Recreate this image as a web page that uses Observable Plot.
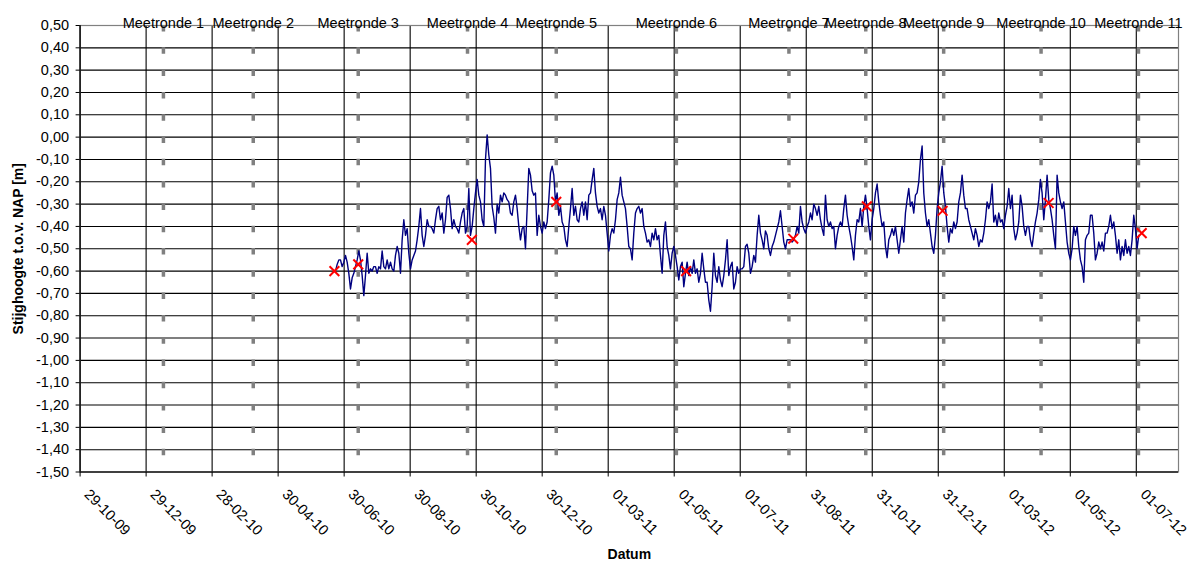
<!DOCTYPE html>
<html>
<head>
<meta charset="utf-8">
<script src="https://cdn.jsdelivr.net/npm/d3@7"></script>
<script src="https://cdn.jsdelivr.net/npm/@observablehq/plot@0.6"></script>
<style>
  html, body { margin: 0; padding: 0; background: #fff; }
  svg { display: block; }
</style>
</head>
<body>
<div id="chart"></div>
<script>
// ---- Axis ticks ----
const xTickDates = ["2009-10-29","2009-12-29","2010-02-28","2010-04-30","2010-06-30","2010-08-30","2010-10-30","2010-12-30","2011-03-01","2011-05-01","2011-07-01","2011-08-31","2011-10-31","2011-12-31","2012-03-01","2012-05-01","2012-07-01"];
const xTickLabels = ["29-10-09","29-12-09","28-02-10","30-04-10","30-06-10","30-08-10","30-10-10","30-12-10","01-03-11","01-05-11","01-07-11","31-08-11","31-10-11","31-12-11","01-03-12","01-05-12","01-07-12"];
const xDomain = ["2009-10-29","2012-08-09"];
const yTicks = [0.5,0.4,0.3,0.2,0.1,0.0,-0.1,-0.2,-0.3,-0.4,-0.5,-0.6,-0.7,-0.8,-0.9,-1.0,-1.1,-1.2,-1.3,-1.4,-1.5];

// ---- Meetrondes (measurement rounds) ----
const meetrondeDates = ["2010-01-14","2010-04-07","2010-07-13","2010-10-22","2011-01-12","2011-05-03","2011-08-15","2011-10-25","2012-01-05","2012-04-04","2012-07-03"];
const meetrondeLabels = ["Meetronde 1","Meetronde 2","Meetronde 3","Meetronde 4","Meetronde 5","Meetronde 6","Meetronde 7","Meetronde 8","Meetronde 9","Meetronde 10","Meetronde 11"];

// ---- Manual measurements (red crosses) ----
const handDates = ["2010-06-21","2010-07-13","2010-10-26","2011-01-12","2011-05-12","2011-08-19","2011-10-26","2012-01-04","2012-04-11","2012-07-06"];
const handValues = [-0.60,-0.57,-0.46,-0.29,-0.60,-0.455,-0.31,-0.33,-0.295,-0.43];

// ---- Logger series (stijghoogte, m NAP), regular sampling ----
const seriesStart = "2010-06-22";
const seriesStepDays = 1.54;
const levels2010 = [
-0.60,-0.57,-0.55,-0.55,-0.58,-0.56,-0.53,-0.56,-0.61,-0.68,
-0.63,-0.61,-0.58,-0.55,-0.51,-0.55,-0.62,-0.71,-0.62,-0.52,
-0.61,-0.59,-0.60,-0.58,-0.58,-0.61,-0.58,-0.59,-0.51,-0.58,
-0.59,-0.55,-0.59,-0.56,-0.59,-0.60,-0.53,-0.49,-0.52,-0.61,
-0.46,-0.37,-0.44,-0.41,-0.52,-0.59,-0.55,-0.53,-0.51,-0.46,
-0.40,-0.32,-0.44,-0.49,-0.44,-0.37,-0.40,-0.40,-0.41,-0.43,
-0.37,-0.32,-0.31,-0.37,-0.34,-0.43,-0.37,-0.27,-0.26,-0.32,
-0.41,-0.37,-0.40,-0.41,-0.43,-0.38,-0.34,-0.32,-0.43,-0.40,
-0.23,-0.44,-0.40,-0.32,-0.25,-0.19,-0.26,-0.29,-0.37,-0.40,
-0.10,0.01,-0.08,-0.14,-0.31,-0.36,-0.43,-0.30,-0.34,-0.26,
-0.29,-0.25,-0.26,-0.28,-0.29,-0.34,-0.35,-0.29,-0.26,-0.32,
-0.40,-0.46,-0.41,-0.40,-0.50,-0.32,-0.14,-0.17,-0.24,-0.26,
-0.25];
const levels2011a = [
-0.44,-0.35,-0.40,-0.43,-0.38,-0.41,-0.38,-0.28,-0.16,-0.13,
-0.17,-0.29,-0.25,-0.35,-0.31,-0.38,-0.40,-0.46,-0.49,-0.40,
-0.32,-0.23,-0.35,-0.31,-0.37,-0.38,-0.32,-0.29,-0.35,-0.29,
-0.37,-0.26,-0.25,-0.19,-0.14,-0.25,-0.31,-0.34,-0.32,-0.37,
-0.31,-0.35,-0.43,-0.51,-0.44,-0.41,-0.43,-0.37,-0.28,-0.25,
-0.18,-0.26,-0.29,-0.32,-0.40,-0.49,-0.50,-0.55,-0.43,-0.34,
-0.32,-0.31,-0.34,-0.32,-0.40,-0.43,-0.47,-0.46,-0.49,-0.43,
-0.46,-0.41,-0.46,-0.44,-0.53,-0.61,-0.44,-0.38,-0.49,-0.53,
-0.59,-0.52,-0.49,-0.53,-0.58,-0.64,-0.58,-0.56,-0.67,-0.61,
-0.56,-0.62,-0.58,-0.61,-0.55,-0.61,-0.59,-0.65,-0.61,-0.52,
-0.59,-0.65,-0.65,-0.73,-0.78,-0.67,-0.52,-0.62,-0.65,-0.58,
-0.64,-0.67,-0.62,-0.55,-0.46,-0.62,-0.58,-0.56,-0.68,-0.65,
-0.58,-0.61,-0.59];
const levels2011b = [
-0.59,-0.58,-0.49,-0.48,-0.52,-0.61,-0.58,-0.53,-0.56,-0.44,
-0.35,-0.43,-0.46,-0.50,-0.42,-0.44,-0.50,-0.53,-0.49,-0.47,
-0.44,-0.41,-0.38,-0.33,-0.40,-0.47,-0.50,-0.46,-0.46,-0.46,
-0.47,-0.46,-0.44,-0.40,-0.43,-0.31,-0.38,-0.41,-0.43,-0.40,
-0.38,-0.34,-0.37,-0.30,-0.32,-0.35,-0.31,-0.37,-0.41,-0.44,
-0.26,-0.37,-0.40,-0.38,-0.41,-0.40,-0.50,-0.44,-0.40,-0.38,
-0.40,-0.32,-0.26,-0.35,-0.40,-0.44,-0.49,-0.55,-0.44,-0.37,
-0.38,-0.32,-0.40,-0.31,-0.26,-0.32,-0.40,-0.46,-0.37,-0.32,
-0.25,-0.21,-0.29,-0.35,-0.40,-0.38,-0.49,-0.54,-0.46,-0.44,
-0.41,-0.44,-0.40,-0.46,-0.52,-0.46,-0.40,-0.47,-0.34,-0.28,
-0.23,-0.31,-0.29,-0.34,-0.26,-0.25,-0.20,-0.10,-0.04,-0.25,
-0.34,-0.40,-0.37,-0.43,-0.49,-0.52,-0.44,-0.32,-0.25,-0.20,
-0.13,-0.25];
const levels2012 = [
-0.31,-0.40,-0.47,-0.41,-0.43,-0.38,-0.41,-0.38,-0.29,-0.25,
-0.17,-0.26,-0.32,-0.32,-0.37,-0.40,-0.43,-0.46,-0.41,-0.44,
-0.49,-0.46,-0.47,-0.43,-0.37,-0.29,-0.32,-0.29,-0.21,-0.38,
-0.35,-0.40,-0.34,-0.38,-0.37,-0.41,-0.35,-0.31,-0.23,-0.32,
-0.26,-0.41,-0.46,-0.43,-0.38,-0.26,-0.31,-0.40,-0.44,-0.40,
-0.40,-0.46,-0.49,-0.43,-0.38,-0.34,-0.28,-0.19,-0.25,-0.37,
-0.28,-0.17,-0.28,-0.32,-0.37,-0.44,-0.50,-0.17,-0.25,-0.29,
-0.32,-0.29,-0.38,-0.47,-0.52,-0.55,-0.50,-0.40,-0.44,-0.40,
-0.49,-0.55,-0.58,-0.65,-0.46,-0.44,-0.43,-0.35,-0.35,-0.43,
-0.55,-0.52,-0.47,-0.50,-0.47,-0.51,-0.43,-0.43,-0.40,-0.35,
-0.41,-0.38,-0.44,-0.52,-0.46,-0.55,-0.49,-0.53,-0.46,-0.52,
-0.49,-0.53,-0.46,-0.35,-0.41,-0.50,-0.44];

// ---- Build tables ----
const parse = d3.utcParse("%Y-%m-%d");
const t0 = parse(seriesStart).getTime();
const levels = [...levels2010, ...levels2011a, ...levels2011b, ...levels2012];
const series = levels.map((v, i) => ({date: new Date(t0 + i * seriesStepDays * 864e5), value: v}));
const xTicks = xTickDates.map((d, i) => ({date: parse(d), label: xTickLabels[i]}));
const rounds = meetrondeDates.map((d, i) => ({date: parse(d), label: meetrondeLabels[i]}));
const hand = handDates.map((d, i) => ({date: parse(d), value: handValues[i]}));
const fmt = (v) => v.toFixed(2).replace(".", ",");

const FONT = "'Liberation Sans', Arial, sans-serif";

const chart = Plot.plot({
  width: 1197,
  height: 562,
  marginLeft: 79.6,
  marginRight: 19,
  marginTop: 25,
  marginBottom: 90.5,
  style: {fontFamily: FONT, fontSize: "14.5px", background: "#fff", color: "#000"},
  x: {type: "utc", domain: xDomain.map(parse), label: null},
  y: {domain: [-1.5, 0.5], label: null},
  marks: [
    // horizontal grid
    Plot.ruleY(yTicks, {stroke: "#000", strokeWidth: 1.1}),
    // vertical grid at the date ticks
    Plot.ruleX(xTicks, {x: "date", stroke: "#000", strokeWidth: 1.1}),
    // dashed grey lines at the measurement rounds
    Plot.ruleX(rounds, {x: "date", stroke: "#808080", strokeWidth: 3.5, strokeDasharray: "6.5 15.8"}),
    // frame: grey top/right, black left/bottom
    Plot.frame({stroke: "#808080", strokeWidth: 1.2}),
    Plot.ruleX([parse(xDomain[0])], {stroke: "#000", strokeWidth: 1.2}),
    Plot.ruleY([-1.5], {stroke: "#000", strokeWidth: 1.2}),
    // logger series
    Plot.line(series, {x: "date", y: "value", stroke: "#000080", strokeWidth: 1.4}),
    // manual measurements
    Plot.dot(hand, {x: "date", y: "value", symbol: "times", r: 4.5, stroke: "#ff0000", strokeWidth: 2}),
    // y axis
    Plot.axisY({ticks: yTicks, tickFormat: fmt, tickSize: 4, tickPadding: 7, label: null, fontSize: 14.5}),
    // x axis ticks (labels drawn rotated below)
    Plot.axisX({ticks: xTicks.map(d => d.date), tickFormat: () => "", tickSize: 5, label: null}),
    Plot.text(xTicks, {x: "date", text: "label", frameAnchor: "bottom", rotate: 45, textAnchor: "start", lineAnchor: "middle", dx: 6.7, dy: 20, fontSize: 14.5}),
    // round labels on top
    Plot.text(rounds, {x: "date", text: "label", frameAnchor: "top", lineAnchor: "bottom", textAnchor: "middle", dy: 2, fontSize: 14.5}),
    // axis titles
    Plot.text(["Stijghoogte t.o.v. NAP [m]"], {frameAnchor: "left", textAnchor: "middle", lineAnchor: "middle", rotate: -90, dx: -61.6, fontWeight: "bold", fontSize: 14}),
    Plot.text(["Datum"], {frameAnchor: "bottom", textAnchor: "middle", lineAnchor: "bottom", dy: 86.5, fontWeight: "bold", fontSize: 14})
  ]
});

document.getElementById("chart").appendChild(chart);
</script>
</body>
</html>
